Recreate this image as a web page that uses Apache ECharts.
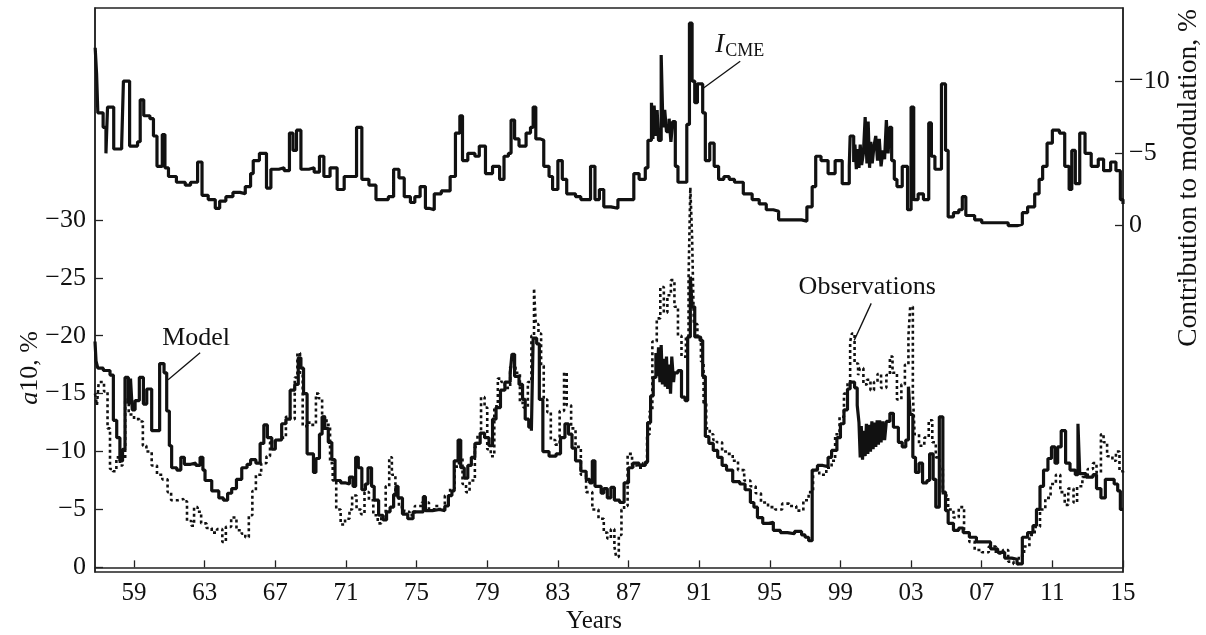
<!DOCTYPE html>
<html>
<head>
<meta charset="utf-8">
<script src="https://cdn.jsdelivr.net/npm/echarts@6/dist/echarts.min.js"></script>
<style>
  html, body { margin: 0; padding: 0; background: #fff; }
  #chart { width: 1206px; height: 635px; }
</style>
</head>
<body>
<div id="chart"></div>
<script>
// year ticks and value ticks
const yearTicks = [1959, 1963, 1967, 1971, 1975, 1979, 1983, 1987, 1991, 1995, 1999, 2003, 2007, 2011, 2015]
const a10Ticks = [-30, -25, -20, -15, -10, -5, 0]
const cmeTicks = [-10, -5, 0]

// a10 model, % [year, value]
const modelPoints = [
  [1956.79,-19.5],[1956.85,-17.8],[1956.95,-17.2],[1957.26,-17.0],[1957.64,-16.6],[1957.83,-12.7],[1958.02,-11.2],[1958.2,-9.2],
  [1958.35,-10.2],[1958.49,-16.4],[1958.68,-14.2],[1958.8,-16.3],[1958.9,-13.6],[1959.06,-14.4],[1959.3,-16.4],[1959.53,-14.1],
  [1959.72,-15.4],[1960.0,-11.8],[1960.45,-17.6],[1960.7,-16.8],[1960.85,-13.5],[1961.0,-10.5],[1961.13,-8.6],[1961.42,-8.4],
  [1961.65,-9.5],[1961.85,-8.9],[1962.2,-9.0],[1962.5,-8.8],[1962.74,-9.5],[1962.9,-8.4],[1963.02,-7.5],[1963.4,-6.6],
  [1963.8,-6.0],[1964.06,-5.8],[1964.3,-6.4],[1964.53,-6.8],[1964.8,-7.6],[1965.1,-8.6],[1965.4,-8.9],[1965.6,-9.3],
  [1965.9,-9.0],[1966.14,-10.7],[1966.35,-12.3],[1966.55,-11.2],[1966.8,-10.2],[1967.0,-11.0],[1967.36,-12.4],[1967.6,-12.8],
  [1967.84,-15.3],[1968.1,-15.8],[1968.3,-18.1],[1968.45,-17.2],[1968.6,-15.0],[1968.8,-9.8],[1969.16,-8.2],[1969.3,-9.4],
  [1969.5,-11.5],[1969.65,-13.0],[1969.8,-12.0],[1970.0,-10.8],[1970.2,-9.3],[1970.38,-7.5],[1970.7,-7.3],[1970.95,-7.2],
  [1971.2,-7.8],[1971.4,-7.0],[1971.55,-9.5],[1971.7,-8.6],[1971.9,-6.7],[1972.1,-7.2],[1972.25,-8.6],[1972.45,-7.0],
  [1972.6,-5.8],[1972.85,-4.5],[1973.1,-4.1],[1973.3,-4.8],[1973.5,-5.2],[1973.7,-6.3],[1973.83,-7.0],[1973.95,-6.0],
  [1974.2,-4.6],[1974.5,-4.2],[1974.8,-4.8],[1975.2,-4.8],[1975.38,-6.1],[1975.5,-4.9],[1975.9,-5.0],[1976.3,-4.9],
  [1976.6,-5.3],[1976.8,-6.2],[1977.0,-6.6],[1977.13,-9.2],[1977.35,-11.0],[1977.5,-8.6],[1977.7,-7.7],[1977.9,-8.8],
  [1978.1,-9.5],[1978.3,-10.7],[1978.6,-11.6],[1978.85,-11.2],[1979.1,-10.5],[1979.3,-12.8],[1979.5,-13.8],[1979.75,-15.3],
  [1980.0,-16.0],[1980.3,-16.8],[1980.4,-18.4],[1980.55,-16.5],[1980.8,-15.8],[1981.0,-14.5],[1981.15,-12.8],[1981.35,-12.1],
  [1981.5,-11.8],[1981.6,-19.8],[1981.8,-19.3],[1981.95,-14.5],[1982.15,-10.0],[1982.5,-9.6],[1982.9,-9.8],[1983.15,-11.2],
  [1983.4,-12.4],[1983.6,-11.5],[1983.8,-10.3],[1984.0,-9.2],[1984.3,-8.3],[1984.6,-7.6],[1984.8,-7.3],[1984.95,-9.2],
  [1985.1,-7.0],[1985.45,-6.4],[1985.6,-6.8],[1985.8,-6.0],[1986.0,-6.9],[1986.2,-5.8],[1986.5,-5.6],[1986.75,-7.3],
  [1987.0,-8.6],[1987.25,-9.0],[1987.6,-8.8],[1987.95,-9.1],[1988.08,-12.5],[1988.25,-14.8],[1988.4,-16.4],[1988.55,-18.5],
  [1988.62,-16.5],[1988.7,-19.0],[1988.78,-16.0],[1988.85,-19.2],[1988.92,-15.8],[1989.0,-18.0],[1989.08,-15.6],[1989.15,-18.2],
  [1989.22,-15.4],[1989.3,-17.5],[1989.38,-15.0],[1989.45,-18.2],[1989.55,-16.0],[1989.6,-16.8],[1989.8,-17.0],[1990.0,-14.7],
  [1990.2,-14.4],[1990.35,-19.9],[1990.5,-25.1],[1990.6,-22.5],[1990.75,-19.9],[1991.05,-19.6],[1991.2,-16.5],
  [1991.35,-11.3],[1991.55,-10.7],[1991.8,-10.1],[1992.05,-9.5],[1992.3,-8.8],[1992.55,-8.4],[1992.9,-7.4],[1993.3,-7.2],
  [1993.6,-6.7],[1993.9,-5.6],[1994.1,-5.2],[1994.3,-4.3],[1994.6,-3.8],[1994.95,-3.9],[1995.2,-3.2],[1995.6,-3.0],
  [1996.0,-2.9],[1996.4,-3.1],[1996.8,-2.8],[1997.0,-2.6],[1997.2,-2.3],[1997.4,-8.4],[1997.7,-8.8],[1998.0,-8.7],
  [1998.3,-9.5],[1998.5,-10.1],[1998.8,-11.2],[1999.0,-12.4],[1999.2,-13.6],[1999.4,-15.4],[1999.55,-16.0],[1999.8,-15.5],
  [1999.95,-14.0],[2000.05,-12.5],[2000.12,-9.5],[2000.18,-12.2],[2000.25,-9.3],[2000.32,-11.8],[2000.4,-9.6],[2000.47,-12.4],
  [2000.55,-9.8],[2000.62,-12.3],[2000.7,-10.0],[2000.78,-12.6],[2000.85,-10.2],[2000.92,-12.5],[2001.0,-10.4],[2001.08,-12.7],
  [2001.15,-10.6],[2001.22,-12.7],[2001.3,-10.8],[2001.4,-12.6],[2001.5,-11.0],[2001.6,-12.6],[2001.8,-13.3],[2002.0,-12.1],
  [2002.28,-10.8],[2002.5,-10.4],
  [2002.7,-11.0],[2002.85,-15.6],[2002.95,-13.2],[2003.1,-9.5],[2003.25,-8.2],[2003.45,-9.0],[2003.65,-7.3],[2003.9,-7.5],
  [2004.05,-9.8],[2004.25,-7.6],[2004.4,-5.2],[2004.6,-13.0],[2004.8,-6.5],[2004.95,-4.9],[2005.1,-3.8],[2005.4,-3.2],
  [2005.7,-3.4],[2005.95,-3.0],[2006.3,-2.6],[2006.7,-2.2],[2007.1,-2.2],[2007.5,-1.6],[2007.9,-1.3],[2008.3,-0.8],
  [2008.7,-0.7],[2009.0,-0.3],[2009.3,-2.6],[2009.6,-3.0],[2009.9,-3.6],[2010.1,-5.0],[2010.3,-7.0],[2010.5,-8.4],
  [2010.75,-9.4],[2010.95,-10.4],[2011.15,-9.0],[2011.3,-10.4],[2011.5,-11.8],[2011.75,-9.0],[2012.0,-8.4],[2012.3,-8.0],
  [2012.45,-12.4],[2012.55,-8.1],[2012.9,-7.8],[2013.3,-8.0],[2013.5,-6.8],[2013.75,-6.0],[2014.0,-7.6],[2014.3,-7.6],
  [2014.5,-7.2],[2014.7,-6.6],[2014.85,-5.0],[2015.0,-5.0]
]

// a10 observations, % [year, value]
const obsPoints = [
  [1956.79,-15.0],[1956.9,-14.0],[1957.0,-16.0],[1957.3,-15.2],[1957.5,-12.0],[1957.64,-8.5],[1957.8,-8.3],[1958.0,-9.5],
  [1958.2,-8.8],[1958.35,-9.3],[1958.5,-14.5],[1958.7,-13.2],[1959.0,-12.8],[1959.3,-12.6],[1959.5,-10.5],[1959.7,-10.0],
  [1960.0,-8.8],[1960.3,-8.0],[1960.6,-7.6],[1960.9,-6.5],[1961.1,-5.8],[1961.5,-5.9],[1961.8,-5.7],[1962.0,-4.0],
  [1962.25,-3.6],[1962.4,-5.2],[1962.6,-4.8],[1962.8,-3.8],[1963.1,-3.4],[1963.4,-3.0],[1963.7,-3.3],[1964.0,-2.2],
  [1964.2,-3.5],[1964.5,-4.3],[1964.8,-3.2],[1965.1,-2.9],[1965.3,-2.6],[1965.5,-4.5],[1965.7,-6.6],[1965.9,-8.0],
  [1966.2,-9.0],[1966.5,-9.6],[1966.7,-10.8],[1967.0,-11.0],[1967.3,-11.2],[1967.6,-13.0],[1967.85,-12.8],[1968.1,-16.4],
  [1968.25,-18.5],[1968.4,-16.8],[1968.55,-12.2],[1968.8,-12.5],[1969.0,-12.3],[1969.3,-15.0],[1969.45,-14.6],[1969.65,-13.0],
  [1969.9,-12.3],[1970.1,-9.0],[1970.25,-7.5],[1970.45,-5.0],[1970.7,-3.7],[1970.95,-4.2],[1971.2,-5.0],[1971.35,-6.2],
  [1971.6,-5.0],[1971.85,-4.6],[1972.05,-6.5],[1972.3,-5.8],[1972.55,-4.5],[1972.8,-3.8],[1973.0,-4.3],[1973.25,-7.0],
  [1973.45,-9.5],[1973.6,-8.0],[1973.8,-6.2],[1974.0,-5.2],[1974.3,-4.8],[1974.6,-4.5],[1974.9,-5.3],[1975.3,-5.6],
  [1975.7,-5.0],[1976.0,-5.3],[1976.3,-5.0],[1976.6,-6.2],[1976.9,-6.8],[1977.15,-8.7],[1977.4,-9.5],[1977.6,-7.2],
  [1977.8,-6.5],[1978.0,-7.5],[1978.3,-10.4],[1978.45,-11.5],[1978.65,-14.7],[1978.85,-13.8],[1979.0,-10.2],[1979.2,-9.6],
  [1979.4,-13.9],[1979.6,-16.3],[1979.8,-16.0],[1980.0,-15.5],[1980.3,-17.3],[1980.6,-16.8],[1980.85,-14.2],[1981.05,-13.8],
  [1981.3,-16.0],[1981.5,-20.0],[1981.65,-24.1],[1981.75,-21.0],[1981.9,-20.2],[1982.05,-17.4],[1982.2,-14.5],[1982.4,-13.4],
  [1982.6,-11.0],[1982.85,-10.6],[1983.1,-13.5],[1983.35,-16.8],[1983.5,-14.0],[1983.75,-12.0],[1984.0,-10.4],[1984.3,-8.0],
  [1984.6,-6.5],[1984.95,-5.0],[1985.3,-4.2],[1985.6,-3.0],[1985.8,-2.5],[1986.0,-3.3],[1986.2,-1.8],[1986.3,-0.9],
  [1986.45,-2.8],[1986.6,-5.0],[1986.75,-5.3],[1986.95,-9.8],[1987.2,-8.8],[1987.5,-8.6],[1987.8,-9.0],[1988.05,-11.5],
  [1988.2,-13.5],[1988.35,-19.5],[1988.6,-21.5],[1988.8,-24.2],[1989.0,-22.0],[1989.2,-23.5],[1989.4,-24.8],[1989.6,-22.5],
  [1989.8,-20.0],[1990.0,-18.2],[1990.25,-19.9],[1990.4,-25.0],[1990.5,-32.8],[1990.6,-28.5],[1990.7,-21.0],[1990.9,-19.9],
  [1991.1,-17.8],[1991.25,-14.2],[1991.4,-12.0],[1991.6,-11.5],[1991.8,-11.0],[1992.0,-10.8],[1992.3,-10.0],[1992.6,-9.8],
  [1992.9,-9.2],[1993.2,-8.4],[1993.55,-7.5],[1993.9,-7.0],[1994.2,-6.4],[1994.5,-5.6],[1994.9,-5.2],[1995.3,-5.0],
  [1995.7,-5.5],[1996.1,-5.3],[1996.5,-4.9],[1996.9,-5.8],[1997.2,-6.5],[1997.45,-8.5],[1997.8,-8.0],[1998.2,-8.6],
  [1998.5,-9.2],[1998.7,-11.5],[1998.95,-13.0],[1999.2,-15.0],[1999.4,-15.9],[1999.55,-19.5],[1999.65,-20.2],[1999.8,-17.6],
  [2000.0,-16.6],[2000.1,-17.2],[2000.3,-15.8],[2000.5,-16.2],[2000.7,-15.3],[2000.9,-16.0],[2001.1,-16.7],[2001.3,-15.5],
  [2001.6,-16.6],[2001.8,-18.2],[2001.95,-16.8],[2002.2,-14.5],[2002.45,-15.8],[2002.65,-17.5],[2002.85,-20.0],[2002.95,-22.5],
  [2003.1,-15.0],[2003.2,-11.5],[2003.45,-10.5],[2003.75,-11.2],[2004.0,-12.7],[2004.2,-10.8],[2004.4,-9.5],[2004.6,-8.5],
  [2004.8,-6.2],[2005.1,-5.0],[2005.4,-4.3],[2005.7,-5.2],[2006.0,-3.0],[2006.3,-2.2],[2006.6,-1.5],[2007.0,-1.3],
  [2007.4,-1.8],[2007.8,-1.2],[2008.2,-1.5],[2008.5,-0.5],[2008.8,-0.3],[2009.1,-1.0],[2009.4,-1.8],[2009.7,-2.8],
  [2010.0,-3.5],[2010.3,-5.0],[2010.6,-6.0],[2010.9,-7.2],[2011.2,-8.0],[2011.45,-6.5],[2011.7,-5.4],[2011.9,-6.8],
  [2012.2,-5.6],[2012.4,-7.0],[2012.7,-7.8],[2013.0,-8.5],[2013.3,-9.0],[2013.5,-8.2],[2013.75,-11.5],[2013.9,-10.8],
  [2014.1,-9.6],[2014.4,-9.2],[2014.6,-10.0],[2014.8,-8.3],[2015.0,-8.0]
]

// I_CME contribution to modulation, % [year, value]
const cmePoints = [
  [1956.8,-12.3],[1956.88,-10.5],[1956.95,-7.8],[1957.25,-6.8],[1957.41,-5.0],[1957.5,-8.2],[1957.85,-5.3],[1958.3,-5.6],
  [1958.4,-10.0],[1958.75,-5.5],[1959.2,-5.8],[1959.35,-8.7],[1959.55,-7.6],[1959.9,-7.4],[1960.1,-6.2],[1960.3,-4.1],
  [1960.6,-6.3],[1960.75,-4.0],[1960.95,-3.4],[1961.4,-3.0],[1961.9,-2.8],[1962.2,-3.0],[1962.6,-4.4],[1962.85,-2.1],
  [1963.2,-1.8],[1963.6,-1.2],[1963.85,-1.7],[1964.2,-2.0],[1964.6,-2.3],[1965.0,-2.2],[1965.3,-2.7],[1965.6,-3.6],
  [1965.75,-4.5],[1966.1,-5.0],[1966.5,-2.6],[1966.75,-3.9],[1967.2,-4.0],[1967.5,-3.8],[1967.8,-6.4],[1968.0,-5.2],
  [1968.2,-6.6],[1968.45,-3.9],[1968.9,-4.0],[1969.2,-3.7],[1969.5,-4.8],[1969.75,-3.4],[1970.1,-4.0],[1970.5,-2.5],
  [1970.9,-3.4],[1971.6,-6.8],[1971.9,-3.2],[1972.3,-2.8],[1972.7,-1.8],[1973.4,-2.0],[1973.7,-3.9],[1974.0,-3.3],
  [1974.3,-2.0],[1974.65,-1.6],[1974.9,-2.0],[1975.2,-2.7],[1975.5,-1.2],[1975.7,-1.1],[1976.0,-2.2],[1976.4,-2.4],
  [1976.9,-3.4],[1977.2,-6.4],[1977.45,-7.6],[1977.6,-4.5],[1977.9,-5.0],[1978.3,-4.8],[1978.55,-5.5],[1978.9,-3.6],
  [1979.3,-4.1],[1979.7,-3.2],[1979.95,-4.8],[1980.2,-5.0],[1980.35,-7.3],[1980.55,-6.0],[1980.8,-5.5],[1981.2,-6.4],
  [1981.45,-6.8],[1981.6,-8.2],[1981.75,-6.0],[1982.0,-5.9],[1982.2,-4.1],[1982.5,-3.4],[1982.7,-2.5],[1983.0,-4.5],
  [1983.25,-3.2],[1983.5,-2.2],[1984.0,-2.0],[1984.3,-1.8],[1984.6,-1.8],[1984.85,-4.1],[1985.1,-1.8],[1985.35,-2.5],
  [1985.6,-1.3],[1986.0,-1.2],[1986.4,-1.8],[1986.9,-1.8],[1987.3,-3.6],[1987.6,-3.2],[1987.95,-4.0],[1988.1,-5.9],
  [1988.3,-8.5],[1988.38,-6.0],[1988.45,-8.3],[1988.55,-6.2],[1988.62,-8.0],[1988.7,-5.9],[1988.85,-11.8],[1988.95,-6.8],
  [1989.05,-8.0],[1989.15,-6.5],[1989.3,-7.4],[1989.4,-5.8],[1989.5,-7.2],[1989.65,-4.1],
  [1989.8,-3.0],[1990.1,-3.0],[1990.3,-7.0],[1990.45,-14.0],[1990.6,-10.0],[1990.75,-8.5],[1990.9,-9.8],[1991.2,-7.8],
  [1991.35,-4.5],[1991.6,-5.7],[1991.85,-4.1],[1992.1,-3.2],[1992.4,-3.4],[1992.7,-3.2],[1993.0,-3.0],[1993.5,-2.2],
  [1994.0,-1.8],[1994.4,-1.5],[1994.8,-1.1],[1995.2,-1.0],[1995.5,-0.4],[1996.5,-0.4],[1996.8,-0.3],[1997.1,-1.3],
  [1997.4,-2.7],[1997.6,-4.8],[1997.9,-4.5],[1998.3,-3.6],[1998.7,-4.5],[1999.1,-2.9],[1999.5,-4.1],[1999.55,-6.2],
  [1999.75,-4.4],[1999.82,-5.6],[1999.9,-3.9],[1999.97,-5.3],[2000.05,-4.0],[2000.12,-5.6],[2000.2,-4.2],[2000.3,-5.0],
  [2000.4,-7.5],[2000.5,-4.3],[2000.57,-7.2],[2000.65,-4.0],[2000.72,-5.8],[2000.8,-4.3],[2000.9,-5.5],[2001.0,-6.2],
  [2001.1,-4.5],[2001.2,-6.0],[2001.3,-4.1],[2001.4,-5.2],[2001.5,-4.6],[2001.6,-7.3],[2001.7,-5.0],[2001.78,-6.8],
  [2001.9,-4.5],[2002.05,-3.2],[2002.2,-2.7],[2002.5,-4.1],[2002.8,-1.1],[2003.0,-8.2],[2003.15,-1.8],[2003.4,-2.2],
  [2003.7,-1.8],[2004.0,-7.1],[2004.15,-4.8],[2004.35,-3.9],[2004.72,-9.8],[2004.95,-5.2],[2005.1,-0.6],[2005.4,-0.9],
  [2005.7,-1.1],[2005.9,-2.0],[2006.1,-0.7],[2006.6,-0.4],[2007.0,-0.2],[2007.6,-0.2],[2008.5,0],[2009.0,-0.1],
  [2009.3,-0.9],[2009.6,-1.3],[2010.0,-2.2],[2010.25,-3.2],[2010.45,-4.1],[2010.7,-5.7],[2011.0,-6.6],[2011.4,-6.4],
  [2011.7,-4.1],[2011.95,-2.5],[2012.1,-5.2],[2012.3,-2.9],[2012.55,-6.4],[2012.85,-5.0],[2013.2,-4.1],[2013.6,-4.6],
  [2013.9,-3.8],[2014.3,-4.4],[2014.6,-3.8],[2014.85,-1.8],[2015.0,-1.5]
]

const FONT = 'Liberation Serif, Times New Roman, serif'
const INK = '#111'

const chart = echarts.init(document.getElementById('chart'), null, { renderer: 'canvas' })

function minusFmt(v) {
  return v < 0 ? '\u2212' + Math.abs(v) : String(v)
}

const option = {
  animation: false,
  backgroundColor: '#fff',
  grid: {
    left: 95, right: 83, top: 8, bottom: 63,
    show: true, borderColor: '#222', borderWidth: 1.5, backgroundColor: 'transparent'
  },
  xAxis: {
    type: 'value',
    min: 1956.79,
    max: 2015,
    axisLine: { show: true, lineStyle: { color: '#222', width: 1.5 } },
    axisTick: { show: true, inside: true, length: 7, customValues: yearTicks, lineStyle: { color: '#222', width: 1.3 } },
    axisLabel: {
      customValues: yearTicks, margin: 9, color: INK, fontFamily: FONT, fontSize: 25,
      formatter: v => String(Math.round(v) % 100).padStart(2, '0')
    },
    splitLine: { show: false }
  },
  yAxis: [
    {
      type: 'value',
      inverse: true,
      min: -48.3,
      max: 0.4,
      axisLine: { show: true, lineStyle: { color: '#222', width: 1.5 } },
      axisTick: { show: true, inside: true, length: 8, customValues: a10Ticks, lineStyle: { color: '#222', width: 1.3 } },
      axisLabel: { customValues: a10Ticks, margin: 9, color: INK, fontFamily: FONT, fontSize: 26, formatter: minusFmt },
      splitLine: { show: false }
    },
    {
      type: 'value',
      position: 'right',
      inverse: true,
      min: -15.05,
      max: 23.95,
      axisLine: { show: true, lineStyle: { color: '#222', width: 1.5 } },
      axisTick: { show: true, inside: true, length: 8, customValues: cmeTicks, lineStyle: { color: '#222', width: 1.3 } },
      axisLabel: { customValues: cmeTicks, margin: 6, color: INK, fontFamily: FONT, fontSize: 26, formatter: minusFmt },
      splitLine: { show: false }
    }
  ],
  series: [
    {
      name: 'Observations',
      type: 'line',
      step: 'end',
      yAxisIndex: 0,
      showSymbol: false,
      data: obsPoints,
      lineStyle: { color: INK, width: 2.6, type: [3, 3] },
      z: 2
    },
    {
      name: 'Model',
      type: 'line',
      step: 'end',
      yAxisIndex: 0,
      showSymbol: false,
      data: modelPoints,
      lineStyle: { color: INK, width: 3.2 },
      z: 3
    },
    {
      name: 'I_CME',
      type: 'line',
      step: 'end',
      yAxisIndex: 1,
      showSymbol: false,
      data: cmePoints,
      lineStyle: { color: INK, width: 3.2 },
      z: 3
    }
  ]
}

chart.setOption(option)

// annotations anchored on data coordinates
const pModel = chart.convertToPixel({ xAxisIndex: 0, yAxisIndex: 0 }, [1960.93, -16.2])
const pObs = chart.convertToPixel({ xAxisIndex: 0, yAxisIndex: 0 }, [1999.78, -19.6])
const pCme = chart.convertToPixel({ xAxisIndex: 0, yAxisIndex: 1 }, [1991.23, -9.5])

const lineStyle = { stroke: INK, lineWidth: 1.3 }

chart.setOption({
  graphic: [
    // axis titles
    {
      type: 'text', x: 30, y: 368, rotation: Math.PI / 2,
      style: {
        text: '{it|a}{n|10, %}', align: 'center', verticalAlign: 'middle',
        rich: {
          it: { fontFamily: FONT, fontSize: 26, fontStyle: 'italic', fill: INK },
          n: { fontFamily: FONT, fontSize: 26, fill: INK }
        }
      }
    },
    {
      type: 'text', x: 1189, y: 178, rotation: Math.PI / 2,
      style: {
        text: 'Contribution to modulation, %', align: 'center', verticalAlign: 'middle',
        font: '27.5px ' + FONT, fill: INK
      }
    },
    {
      type: 'text', x: 594, y: 621,
      style: { text: 'Years', align: 'center', verticalAlign: 'middle', font: '25px ' + FONT, fill: INK }
    },
    // Model label
    {
      type: 'line',
      shape: { x1: pModel[0] + 32, y1: pModel[1] - 27, x2: pModel[0], y2: pModel[1] },
      style: lineStyle
    },
    {
      type: 'text', x: pModel[0] + 28, y: pModel[1] - 42,
      style: { text: 'Model', align: 'center', verticalAlign: 'middle', font: '26px ' + FONT, fill: INK }
    },
    // Observations label
    {
      type: 'line',
      shape: { x1: pObs[0] + 17, y1: pObs[1] - 37, x2: pObs[0], y2: pObs[1] },
      style: lineStyle
    },
    {
      type: 'text', x: pObs[0] + 13, y: pObs[1] - 53,
      style: { text: 'Observations', align: 'center', verticalAlign: 'middle', font: '26px ' + FONT, fill: INK }
    },
    // I_CME label
    {
      type: 'line',
      shape: { x1: pCme[0] + 37, y1: pCme[1] - 27, x2: pCme[0], y2: pCme[1] },
      style: lineStyle
    },
    {
      type: 'text', x: pCme[0] + 12, y: pCme[1] - 43,
      style: {
        text: '{i|I}{s|CME}', align: 'left', verticalAlign: 'middle',
        rich: {
          i: { fontFamily: FONT, fontSize: 27, fontStyle: 'italic', fill: INK, lineHeight: 30, verticalAlign: 'middle' },
          s: { fontFamily: FONT, fontSize: 18, fill: INK, lineHeight: 30, verticalAlign: 'bottom', padding: [0, 0, 0, 1] }
        }
      }
    }
  ]
})
</script>
</body>
</html>
